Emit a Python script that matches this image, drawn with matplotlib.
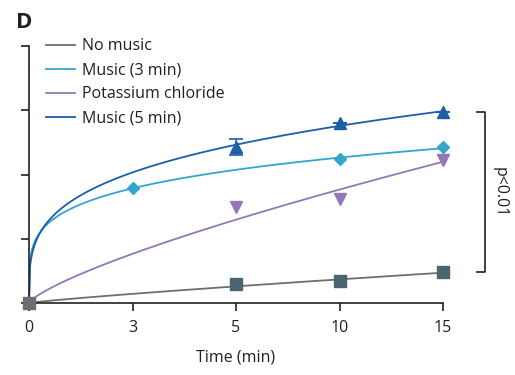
import numpy as np
import matplotlib
matplotlib.use('Agg')
import matplotlib.pyplot as plt

plt.rcParams['font.family'] = ['Open Sans', 'DejaVu Sans']

# time points (min) shown at evenly spaced positions
time_labels = ['0', '3', '5', '10', '15']
positions = np.arange(len(time_labels))

# marker values (arbitrary units, 1 tick = 1)
no_music_x = [0, 2, 3, 4]
no_music_y = [0, 0.30, 0.34, 0.48]
music3_x = [1, 3, 4]
music3_y = [1.79, 2.24, 2.43]
kcl_x = [2, 3, 4]
kcl_y = [1.49, 1.62, 2.22]
music5_x = [2, 3, 4]
music5_y = [2.43, 2.80, 2.97]
music5_err = [0.13, 0, 0]

# heights of the fitted curves read at positions 1..4
curve_no_music = [0.14, 0.27, 0.36, 0.47]
curve_music3 = [1.79, 2.07, 2.24, 2.43]
curve_kcl = [0.75, 1.34, 1.80, 2.13]
curve_music5 = [2.04, 2.43, 2.80, 2.97]

c_grey = '#6d6e71'
c_sq = '#4b6470'
c_m3 = '#34a6cc'
c_kcl = '#9377b8'
c_m5 = '#1b5ea9'
c_txt = '#231f20'
fs = 11.5


def power_curve(samples):
    # fit y = a * p^b through the curve samples
    b, loga = np.polyfit(np.log(positions[1:]), np.log(samples), 1)
    p = np.linspace(0, 4, 400)
    return p, np.exp(loga) * p ** b


fig = plt.figure(figsize=(5.15, 3.75), dpi=100)
ax = fig.add_axes([29 / 515, 72 / 375, 414 / 515, 257 / 375])

for samples, col, lab in [(curve_no_music, c_grey, 'No music'),
                          (curve_music3, c_m3, 'Music (3 min)'),
                          (curve_kcl, c_kcl, 'Potassium chloride'),
                          (curve_music5, c_m5, 'Music (5 min)')]:
    px, py = power_curve(samples)
    ax.plot(px, py, color=col, lw=1.3, label=lab, zorder=2)

ax.plot(no_music_x[1:], no_music_y[1:], 's', color=c_sq, ms=8.5, ls='none', zorder=3, clip_on=False)
ax.plot(music3_x, music3_y, 'D', color=c_m3, ms=6, ls='none', zorder=3, clip_on=False)
ax.plot(kcl_x, kcl_y, 'v', color=c_kcl, ms=8.5, ls='none', zorder=3, clip_on=False)
eb = ax.errorbar(music5_x, music5_y, yerr=music5_err, fmt='^', color=c_m5, ms=8.5,
                 capsize=5, elinewidth=1.2, capthick=1.2, zorder=3)
for art in eb.lines[0:1] + tuple(eb.lines[1]) + tuple(eb.lines[2]):
    art.set_clip_on(False)
ax.plot(no_music_x[:1], no_music_y[:1], 's', color=c_grey, ms=8.5, clip_on=False, zorder=5)

ax.set_xlim(0, 4)
ax.set_ylim(0, 4)
ax.set_xticks(positions)
ax.set_xticklabels(time_labels)
ax.set_yticks(range(5))
ax.set_yticklabels([])
ax.spines['top'].set_visible(False)
ax.spines['right'].set_visible(False)
for s in ['left', 'bottom']:
    ax.spines[s].set_color(c_txt)
    ax.spines[s].set_linewidth(1.2)
ax.tick_params(colors=c_txt, width=1.2, length=6, labelsize=fs, pad=6)
ax.set_xlabel('Time (min)', fontsize=fs, color=c_txt, labelpad=10)

leg = ax.legend(loc='upper left', bbox_to_anchor=(0.025, 1.055), frameon=False,
                fontsize=fs, handlelength=1.85, handletextpad=0.45,
                labelspacing=0.5, borderaxespad=0)
for t in leg.get_texts():
    t.set_color(c_txt)

# significance bracket
ax.plot([4.33, 4.41, 4.41, 4.33], [no_music_y[-1], no_music_y[-1], music5_y[-1], music5_y[-1]],
        color=c_txt, lw=1.2, clip_on=False)
ax.text(4.55, (no_music_y[-1] + music5_y[-1]) / 2, 'p<0.01', rotation=270,
        ha='center', va='center', fontsize=fs, color=c_txt)

fig.text(16 / 515, 1 - 22 / 375, 'D', fontsize=16, fontweight='bold', color=c_txt,
         ha='left', va='center')

fig.savefig('out.png', dpi=100)
